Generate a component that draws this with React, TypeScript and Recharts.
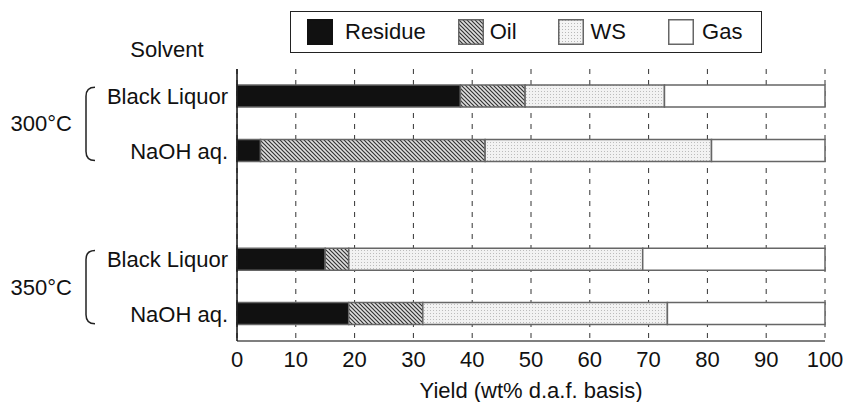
import { BarChart, Bar, XAxis, YAxis, CartesianGrid, Legend } from "recharts";

const solvents = ["Black Liquor", "NaOH aq.", "", "Black Liquor", "NaOH aq."];
const temps = ["300°C", "", "", "350°C", ""];
const residue = [38, 4, null, 15, 19];
const oil = [11, 38.2, null, 4, 12.6];
const ws = [23.7, 38.5, null, 50, 41.6];
const gas = [27.3, 19.3, null, 31, 26.8];
const xTicks = [0, 10, 20, 30, 40, 50, 60, 70, 80, 90, 100];

const series = [
  { key: "residue", name: "Residue", fill: "#111111" },
  { key: "oil", name: "Oil", fill: "url(#oilHatch)" },
  { key: "ws", name: "WS", fill: "url(#wsDots)" },
  { key: "gas", name: "Gas", fill: "#ffffff" },
];

const rows = solvents.map((s, i) => ({
  id: `r${i}`,
  residue: residue[i],
  oil: oil[i],
  ws: ws[i],
  gas: gas[i],
}));

const FONT = "'Liberation Sans', Arial, Helvetica, sans-serif";
const FS = 22;
// legend spacing: gap swatch->text, gap text->next swatch
const textGap = [12, 6, 7, 8];
const itemGap = [32, 41, 42, 0];

function Swatch({ k }: { k: string }) {
  return (
    <svg width={26} height={26} style={{ display: "block" }}>
      <defs>
        <pattern id="lgOil" width={4} height={4} patternUnits="userSpaceOnUse">
          <rect width={4} height={4} fill="#e0e0e0" />
          <path d="M0,0 L4,4 M-1,3 L1,5 M3,-1 L5,1" stroke="#333" strokeWidth={1.2} />
        </pattern>
        <pattern id="lgWs" width={3} height={3} patternUnits="userSpaceOnUse">
          <rect width={3} height={3} fill="#f4f4f4" />
          <rect x={1} y={1} width={1} height={1} fill="#b8b8b8" />
        </pattern>
      </defs>
      <rect
        x={0.75} y={0.75} width={24.5} height={24.5}
        fill={k === "residue" ? "#111" : k === "oil" ? "url(#lgOil)" : k === "ws" ? "url(#lgWs)" : "#fff"}
        stroke={k === "residue" ? "#111" : "#666"} strokeWidth={1.5}
      />
    </svg>
  );
}

function LegendBox() {
  return (
    <div style={{
      width: 472, height: 42, boxSizing: "border-box", border: "1.5px solid #222",
      display: "flex", alignItems: "center", padding: "0 0 0 16px", fontFamily: FONT, fontSize: FS, color: "#111",
    }}>
      {series.map((s, i) => (
        <div key={s.key} style={{ display: "flex", alignItems: "center", marginRight: itemGap[i] }}>
          <Swatch k={s.key} />
          <span style={{ marginLeft: textGap[i] }}>{s.name}</span>
        </div>
      ))}
    </div>
  );
}

function SolventTick(props: any) {
  const { x, y, payload, index, height } = props;
  const i = payload?.index ?? index;
  const bw = (height ?? 272) / solvents.length;
  const t = temps[i];
  return (
    <g>
      <text x={x} y={y} dy={8} textAnchor="end" fontSize={FS} fill="#111" fontFamily={FONT}>
        {solvents[i]}
      </text>
      {t && (
        <g>
          <path
            d={`M95,${y - 9} Q86,${y - 9} 86,${y} L86,${y + bw + 1} Q86,${y + bw + 10} 95,${y + bw + 10}`}
            fill="none" stroke="#222" strokeWidth={1.5}
          />
          <text x={72} y={y + bw / 2} dy={8} textAnchor="end" fontSize={FS} fill="#111" fontFamily={FONT}>
            {t}
          </text>
        </g>
      )}
    </g>
  );
}

function SolventLabel() {
  return (
    <text x={167} y={57} textAnchor="middle" fontSize={FS} fill="#111" fontFamily={FONT}>
      Solvent
    </text>
  );
}

export default function App() {
  return (
    <div style={{ position: "absolute", left: 0, top: 0, width: 843, height: 402, background: "#fff", fontFamily: FONT }}>
      <BarChart width={843} height={402} data={rows} layout="vertical" margin={{ top: 69, right: 18, bottom: 31, left: 0 }}>
        <defs>
          <pattern id="oilHatch" width={4} height={4} patternUnits="userSpaceOnUse">
            <rect width={4} height={4} fill="#e0e0e0" />
            <path d="M0,0 L4,4 M-1,3 L1,5 M3,-1 L5,1" stroke="#333" strokeWidth={1.2} />
          </pattern>
          <pattern id="wsDots" width={3} height={3} patternUnits="userSpaceOnUse">
            <rect width={3} height={3} fill="#f2f2f2" />
            <rect x={1} y={1} width={1} height={1} fill="#bcbcbc" />
          </pattern>
        </defs>
        <CartesianGrid horizontal={false} stroke="#333" strokeDasharray="5 6" />
        <XAxis
          type="number" domain={[0, 100]} ticks={xTicks} interval={0}
          tickLine={false} tickSize={0} tickMargin={10} height={30}
          axisLine={{ stroke: "#555", strokeWidth: 1.5 }}
          tick={{ fontSize: FS, fill: "#111", fontFamily: FONT }}
          label={{ value: "Yield (wt% d.a.f. basis)", position: "bottom", offset: 11, fontSize: FS, fill: "#111", fontFamily: FONT }}
        />
        <XAxis
          xAxisId="top" orientation="top" type="number" domain={[0, 100]} height={0}
          tick={false} tickLine={false} axisLine={{ stroke: "#111", strokeWidth: 2 }}
        />
        <YAxis
          type="category" dataKey="id" width={237} interval={0}
          tickLine={false} tickSize={0} tickMargin={9}
          axisLine={{ stroke: "#111", strokeWidth: 1.5 }}
          tick={<SolventTick />}
          label={<SolventLabel />}
        />
        <YAxis
          yAxisId="right" orientation="right" type="category" dataKey="id" width={0}
          tick={false} tickLine={false} axisLine={{ stroke: "#888", strokeWidth: 1.5 }}
        />
        <Legend
          verticalAlign="middle" align="center" layout="horizontal"
          wrapperStyle={{ position: "absolute", top: 11, left: 290, width: 472, height: 42 }}
          content={() => <LegendBox />}
        />
        {series.map((s) => (
          <Bar
            key={s.key} dataKey={s.key} name={s.name} stackId="a" barSize={22}
            fill={s.fill} stroke="#666" strokeWidth={1.5} isAnimationActive={false}
          />
        ))}
      </BarChart>
    </div>
  );
}
